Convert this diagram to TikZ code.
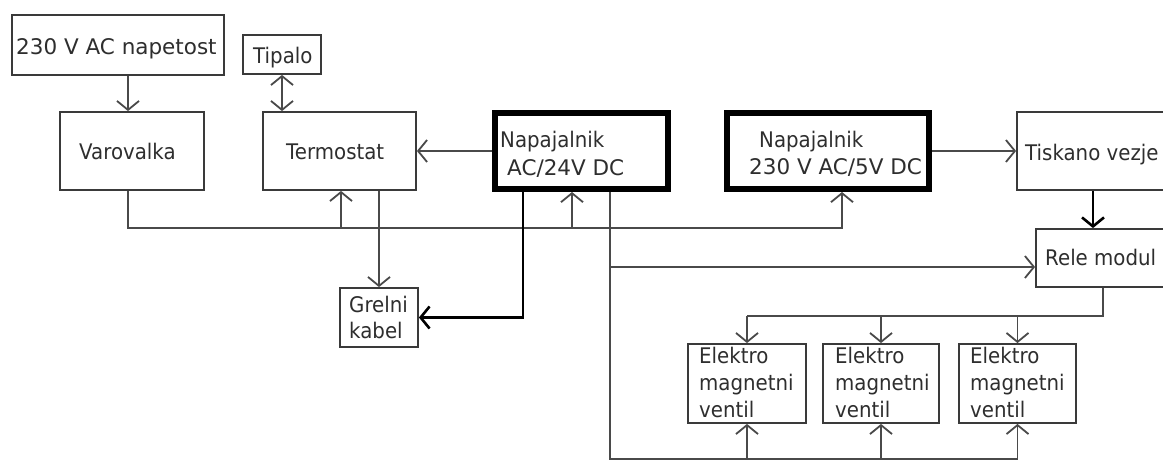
\documentclass[tikz,border=0pt]{standalone}
\usepackage{fontspec}
\setmainfont{DejaVu Sans}
\newfontfamily\narrowf[FakeStretch=0.92]{DejaVu Sans}
\usetikzlibrary{arrows.meta,calc}
\definecolor{boxc}{HTML}{3A3A3A}
\definecolor{wirec}{HTML}{4A4A4A}
\definecolor{txtc}{HTML}{2E2E2E}
\begin{document}
\begin{tikzpicture}[x=1pt,y=-1pt,
  bx/.style={draw=boxc,line width=1.8pt,rectangle,inner sep=0pt},
  thickbx/.style={draw=black,line width=6pt,rectangle,inner sep=0pt},
  lbl/.style={anchor=base west,inner sep=0pt,text=txtc,font=\fontsize{21.5}{27}\selectfont},
  nlbl/.style={anchor=base west,inner sep=0pt,text=txtc,font=\narrowf\fontsize{21.5}{27}\selectfont},
  wire/.style={draw=wirec,line width=1.8pt},
  tip/.tip={Straight Barb[length=9pt,width=22pt]},
  arr/.style={wire,-tip},
  arrboth/.style={wire,tip-tip},
  arrthick/.style={draw=black,line width=2.6pt,-tip}
]
\clip (0,0) rectangle (1163,460);
\fill[white] (0,0) rectangle (1163,460);

% boxes
\node[bx,minimum width=212pt,minimum height=60pt] (ac) at (118,45) {};
\node[bx,minimum width=78pt,minimum height=39pt] (tipalo) at (282,54.5) {};
\node[bx,minimum width=144pt,minimum height=78pt] (varovalka) at (132,151) {};
\node[bx,minimum width=153pt,minimum height=78pt] (termostat) at (339.5,151) {};
\node[thickbx,minimum width=173pt,minimum height=76pt] (nap24) at (581.5,151) {};
\node[thickbx,minimum width=202pt,minimum height=76pt] (nap5) at (828,151) {};
\node[bx,minimum width=183pt,minimum height=78pt] (tiskano) at (1108.5,151) {};
\node[bx,minimum width=164pt,minimum height=58pt] (rele) at (1118,258) {};
\node[bx,minimum width=78pt,minimum height=59pt] (grelni) at (379,317.5) {};
\node[bx,minimum width=118pt,minimum height=79pt] (ev1) at (747,383.5) {};
\node[bx,minimum width=116pt,minimum height=79pt] (ev2) at (881,383.5) {};
\node[bx,minimum width=117pt,minimum height=79pt] (ev3) at (1017.5,383.5) {};

% labels
\node[lbl] (acT) at (16,55) {230 V AC napetost};
\node[nlbl] (tipaloT) at (253,64) {Tipalo};
\node[nlbl] (varovalkaT) at (79,159) {Varovalka};
\node[nlbl] (termostatT) at (286,159) {Termostat};
\node[nlbl] (nap24T1) at (500,147) {Napajalnik};
\node[lbl] (nap24T2) at (507,175) {AC/24V DC};
\node[nlbl] (nap5T1) at (759,147) {Napajalnik};
\node[lbl] (nap5T2) at (749,174) {230 V AC/5V DC};
\node[nlbl] (tiskanoT) at (1025,160) {Tiskano vezje};
\node[nlbl] (releT) at (1045,265) {Rele modul};
\node[nlbl] (grelniT1) at (349,312) {Grelni};
\node[nlbl] (grelniT2) at (349,338) {kabel};
\foreach \n/\x in {1/699,2/835,3/970}{
  \node[nlbl] (ev\n a) at (\x,363) {Elektro};
  \node[nlbl] (ev\n b) at (\x,390) {magnetni};
  \node[nlbl] (ev\n c) at (\x,417) {ventil};
}

% helper coordinates
\coordinate (xA) at (128,0);
\coordinate (xT) at (1093,0);
\coordinate (xT1) at (341,0);
\coordinate (xN24) at (572,0);
\coordinate (xN5) at (842,0);
\coordinate (xG) at (523,0);
\coordinate (xD) at (610,0);
\coordinate (xR) at (1103,0);
\coordinate (yBus) at (0,228);
\coordinate (yR) at (0,267);
\coordinate (yE) at (0,316);
\coordinate (yBot) at (0,459);

% connectors
\draw[arr] (ac.south -| xA) -- (varovalka.north -| xA);
\draw[arrboth] (tipalo.south) -- (tipalo.south |- termostat.north);
\draw[arr] (nap24.west) -- (termostat.east);
\draw[arr] (nap5.east) -- (tiskano.west);
\draw[arrthick] (tiskano.south -| xT) -- (rele.north -| xT);

% bus under the top row
\draw[arr] (varovalka.south -| xA) |- (yBus -| xN5) -- (nap5.south -| xN5);
\draw[arr] (yBus -| xT1) -- (termostat.south -| xT1);
\draw[arr] (yBus -| xN24) -- (nap24.south -| xN24);

% heating cable
\draw[arr] (termostat.south -| grelni.north) -- (grelni.north);
\draw[arrthick] (nap24.south -| xG) |- (grelni.east);

% 24 V supply to relay and valves
\draw[wire] (nap24.south -| xD) |- (yBot -| ev3.south);
\draw[arr] (yR -| xD) -- (rele.west |- yR);
\draw[arr] (yBot -| ev1.south) -- (ev1.south);
\draw[arr] (yBot -| ev2.south) -- (ev2.south);
\draw[arr] (yBot -| ev3.south) -- (ev3.south);

% relay to valves
\draw[wire] (rele.south -| xR) |- (yE -| ev1.north);
\draw[arr] (yE -| ev1.north) -- (ev1.north);
\draw[arr] (yE -| ev2.north) -- (ev2.north);
\draw[arr] (yE -| ev3.north) -- (ev3.north);
\end{tikzpicture}
\end{document}
